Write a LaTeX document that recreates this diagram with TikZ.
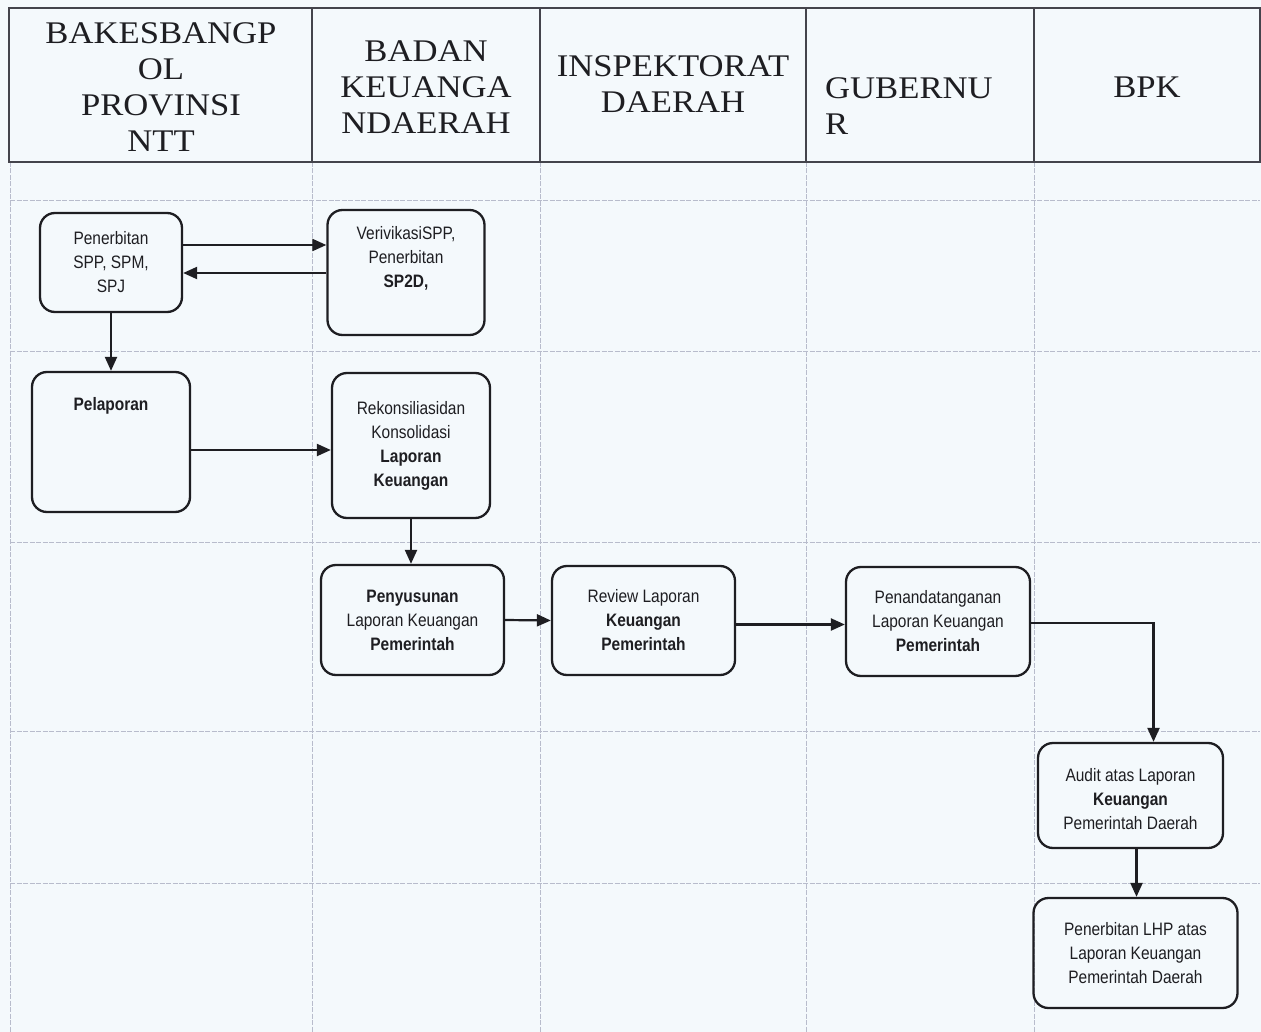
\documentclass[tikz,border=0pt]{standalone}
\usepackage{fontspec}
\setmainfont{Liberation Serif}
\newfontfamily\headfont[FakeStretch=1.1]{Liberation Serif}
\newfontfamily\boxfont[FakeStretch=0.86]{Liberation Sans}
\usetikzlibrary{arrows.meta}
\definecolor{bgc}{HTML}{F4F9FC}
\definecolor{gridc}{HTML}{B8BCCC}
\definecolor{headc}{HTML}{44444C}
\definecolor{inkc}{HTML}{1E1E22}
\begin{document}
\begin{tikzpicture}[x=1pt,y=-1pt,
  head/.style={inner sep=0pt,font=\headfont\fontsize{31.5}{36}\selectfont,text=inkc,align=center},
  procbox/.style={draw=inkc,line width=2.3pt,rounded corners=15pt,fill=none,inner sep=0pt,
     font=\boxfont\fontsize{18}{24}\selectfont,text=inkc,align=center},
  boxtext/.style={inner sep=0pt,font=\boxfont\fontsize{18}{24}\selectfont,text=inkc,align=center},
  arr/.style={draw=inkc,line width=2.2pt,-{Triangle[length=14pt,width=12pt]}},
  gridline/.style={draw=gridc,line width=0.9pt,dash pattern=on 5pt off 1.5pt},
  headline/.style={draw=headc,line width=1.9pt}]
\useasboundingbox (0,0) rectangle (1261,1032);
\fill[bgc] (0,0) rectangle (1261,1032);
% grid below header
\foreach \gx in {10,312,540,806,1034} \draw[gridline] (\gx,162) -- (\gx,1032);
\foreach \gy in {200,351,542,731,883} \draw[gridline] (10,\gy) -- (1260,\gy);
% header
\draw[headline] (9,8) rectangle (1260,162);
\foreach \gx in {312,540,806,1034} \draw[headline] (\gx,8) -- (\gx,162);
\node[head,anchor=north] (h1) at (161,22) {BAKESBANGP\\OL\\PROVINSI\\NTT};
\node[head,anchor=north] (h2) at (426,41) {BADAN\\KEUANGA\\NDAERAH};
\node[head,anchor=north] (h3) at (673,55) {INSPEKTORAT\\DAERAH};
\node[head,anchor=north west,align=left] (h4) at (825,77) {GUBERNU\\R};
\node[head,anchor=north] (h5) at (1147,77) {BPK};
% boxes
\node[procbox,minimum width=142pt,minimum height=99pt] (b1) at (111,262.5)
  {Penerbitan\\SPP, SPM,\\SPJ};
\node[procbox,minimum width=157pt,minimum height=125pt] (b2) at (406,272.5) {};
\node[boxtext] (t2) at ([yshift=14pt]b2.center) {VerivikasiSPP,\\Penerbitan\\\textbf{SP2D,}};
\node[procbox,minimum width=158pt,minimum height=140pt] (b3) at (111,442) {};
\node[boxtext] (t3) at ([yshift=36pt]b3.center) {\textbf{Pelaporan}};
\node[procbox,minimum width=158pt,minimum height=145pt] (b4) at (411,445.5)
  {Rekonsiliasidan\\Konsolidasi\\\textbf{Laporan}\\\textbf{Keuangan}};
\node[procbox,minimum width=183pt,minimum height=110pt] (b5) at (412.5,620)
  {\textbf{Penyusunan}\\Laporan Keuangan\\\textbf{Pemerintah}};
\node[procbox,minimum width=183pt,minimum height=109pt] (b6) at (643.5,620.5)
  {Review Laporan\\\textbf{Keuangan}\\\textbf{Pemerintah}};
\node[procbox,minimum width=184pt,minimum height=109pt] (b7) at (938,621.5)
  {Penandatanganan\\Laporan Keuangan\\\textbf{Pemerintah}};
\node[procbox,minimum width=185pt,minimum height=105pt] (b8) at (1130.5,795.5) {};
\node[boxtext] (t8) at ([yshift=-4pt]b8.center) {Audit atas Laporan\\\textbf{Keuangan}\\Pemerintah Daerah};
\node[procbox,minimum width=204pt,minimum height=110pt] (b9) at (1135.5,953)
  {Penerbitan LHP atas\\Laporan Keuangan\\Pemerintah Daerah};
% connectors
\draw[arr] ([yshift=17.5pt]b1.east) -- ([yshift=17.5pt]b1.east -| b2.west);
\draw[arr] ([yshift=-0.5pt]b2.west) -- ([yshift=-0.5pt]b2.west -| b1.east);
\draw[arr] (b1.south) -- (b3.north);
\draw[arr] ([yshift=-8pt]b3.east) -- ([yshift=-8pt]b3.east -| b4.west);
\draw[arr] (b4.south) -- (b4.south |- b5.north);
\draw[arr] (b5.east) -- (b6.west);
\draw[arr] ([yshift=-4pt]b6.east) -- ([yshift=-4pt]b6.east -| b7.west);
\draw[arr] ([yshift=-1.5pt]b7.east) -| ([xshift=23pt]b8.north);
\draw[arr] ([xshift=6pt]b8.south) -- ([xshift=6pt]b8.south |- b9.north);
\end{tikzpicture}
\end{document}
